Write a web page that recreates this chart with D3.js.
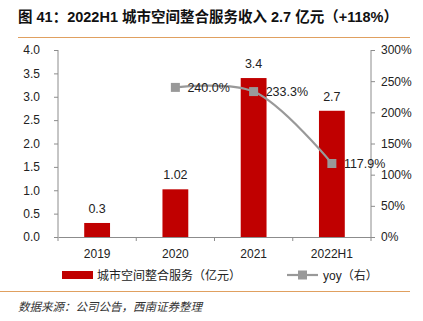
<!DOCTYPE html>
<html>
<head>
<meta charset="utf-8">
<script src="https://cdn.jsdelivr.net/npm/d3@7"></script>
<style>
  body { margin: 0; background: #fff; }
  svg { display: block; }
  text { font-family: "Liberation Sans", Arial, "Noto Sans CJK SC", sans-serif; }
</style>
</head>
<body>
<script>
const categories = ['2019', '2020', '2021', '2022H1'];
const revenue = [0.3, 1.02, 3.4, 2.7];
const revenueLabels = ['0.3', '1.02', '3.4', '2.7'];
const yoy = [null, 240.0, 233.3, 117.9];
const leftTicks = [0, 0.5, 1, 1.5, 2, 2.5, 3, 3.5, 4];
const rightTicks = [0, 50, 100, 150, 200, 250, 300];

const W = 423, H = 321;
const m = { left: 58, right: 52, top: 50, bottom: 84 };

const svg = d3.select('body').append('svg')
  .attr('width', W)
  .attr('height', H);

// title + rules
svg.append('text')
  .attr('x', 18).attr('y', 22)
  .attr('font-size', 14.5).attr('font-weight', 'bold')
  .attr('fill', '#111')
  .text('图 41：2022H1 城市空间整合服务收入 2.7 亿元（+118%）');
svg.append('line')
  .attr('x1', 18).attr('x2', 410).attr('y1', 37.5).attr('y2', 37.5)
  .attr('stroke', '#E0A060').attr('stroke-width', 1.2);
svg.append('line')
  .attr('x1', 0).attr('x2', 410).attr('y1', 291.5).attr('y2', 291.5)
  .attr('stroke', '#E0A060').attr('stroke-width', 1.2);
svg.append('text')
  .attr('x', 18).attr('y', 311)
  .attr('font-size', 11.5).attr('font-style', 'italic')
  .attr('font-family', '"Noto Sans CJK SC", sans-serif')
  .attr('fill', '#333')
  .text('数据来源：公司公告，西南证券整理');

const x = d3.scaleBand()
  .domain(categories)
  .range([m.left, W - m.right]);
const y = d3.scaleLinear().domain([0, 4]).range([H - m.bottom, m.top]);
const y2 = d3.scaleLinear().domain([0, 300]).range([H - m.bottom, m.top]);

const axisColor = '#8c8c8c';
const fmt1 = d3.format('.1f');

// left axis
const gl = svg.append('g')
  .attr('transform', `translate(${m.left},0)`)
  .call(d3.axisLeft(y).tickValues(leftTicks).tickFormat(fmt1).tickSize(4).tickPadding(14));
// right axis
const gr = svg.append('g')
  .attr('transform', `translate(${W - m.right},0)`)
  .call(d3.axisRight(y2).tickValues(rightTicks).tickFormat(d => d + '%').tickSize(4).tickPadding(6));
// bottom axis, ticks at band edges
const gb = svg.append('g')
  .attr('transform', `translate(0,${H - m.bottom})`)
  .call(d3.axisBottom(x).tickSize(0).tickPadding(12));
gb.selectAll('.edge')
  .data(categories.map(c => x(c)).concat([x.range()[1]]))
  .enter().append('line')
  .attr('x1', d => d).attr('x2', d => d)
  .attr('y1', 0).attr('y2', 4)
  .attr('stroke', axisColor);

[gl, gr, gb].forEach(g => {
  g.selectAll('path, line').attr('stroke', axisColor);
  g.selectAll('text').attr('font-size', 12).attr('fill', '#222');
});
gl.select('.domain').attr('d', `M0,${m.top}V${H - m.bottom}`);
gr.select('.domain').attr('d', `M0,${m.top}V${H - m.bottom}`);

// bars
const bw = x.bandwidth() * 0.33;
svg.append('g').selectAll('rect')
  .data(revenue)
  .enter().append('rect')
  .attr('x', (d, i) => x(categories[i]) + (x.bandwidth() - bw) / 2)
  .attr('y', d => y(d))
  .attr('width', bw)
  .attr('height', d => y(0) - y(d))
  .attr('fill', '#C00000');

svg.append('g').selectAll('text')
  .data(revenue)
  .enter().append('text')
  .attr('x', (d, i) => x(categories[i]) + x.bandwidth() / 2)
  .attr('y', d => y(d) - 10)
  .attr('text-anchor', 'middle')
  .attr('font-size', 12.5).attr('fill', '#222')
  .text((d, i) => revenueLabels[i]);

// yoy line
const pts = yoy.map((v, i) => ({ v, c: categories[i] })).filter(p => p.v != null);
const line = d3.line()
  .x(p => x(p.c) + x.bandwidth() / 2)
  .y(p => y2(p.v))
  .curve(d3.curveCatmullRom.alpha(0.5));
svg.append('path')
  .datum(pts)
  .attr('d', line)
  .attr('fill', 'none')
  .attr('stroke', '#999')
  .attr('stroke-width', 2.2);
svg.append('g').selectAll('rect')
  .data(pts)
  .enter().append('rect')
  .attr('x', p => x(p.c) + x.bandwidth() / 2 - 4.5)
  .attr('y', p => y2(p.v) - 4.5)
  .attr('width', 9).attr('height', 9)
  .attr('fill', '#999');
svg.append('g').selectAll('text')
  .data(pts)
  .enter().append('text')
  .attr('x', p => x(p.c) + x.bandwidth() / 2 + 12)
  .attr('y', p => y2(p.v) + 4.5)
  .attr('font-size', 12.5).attr('fill', '#222')
  .text(p => fmt1(p.v) + '%');

// legend
const lg = svg.append('g').attr('transform', 'translate(0,275)');
lg.append('rect')
  .attr('x', 62).attr('y', -4).attr('width', 31).attr('height', 8)
  .attr('fill', '#C00000');
lg.append('text')
  .attr('x', 97).attr('y', 4.5)
  .attr('font-size', 12).attr('fill', '#222')
  .attr('font-family', '"Noto Sans CJK SC", sans-serif')
  .text('城市空间整合服务（亿元）');
lg.append('line')
  .attr('x1', 287).attr('x2', 318).attr('y1', 0).attr('y2', 0)
  .attr('stroke', '#999').attr('stroke-width', 2.2);
lg.append('rect')
  .attr('x', 298).attr('y', -4.5).attr('width', 9).attr('height', 9)
  .attr('fill', '#999');
lg.append('text')
  .attr('x', 323).attr('y', 4.5)
  .attr('font-size', 12).attr('fill', '#222')
  .attr('font-family', '"Noto Sans CJK SC", sans-serif')
  .text('yoy（右）');
</script>
</body>
</html>
